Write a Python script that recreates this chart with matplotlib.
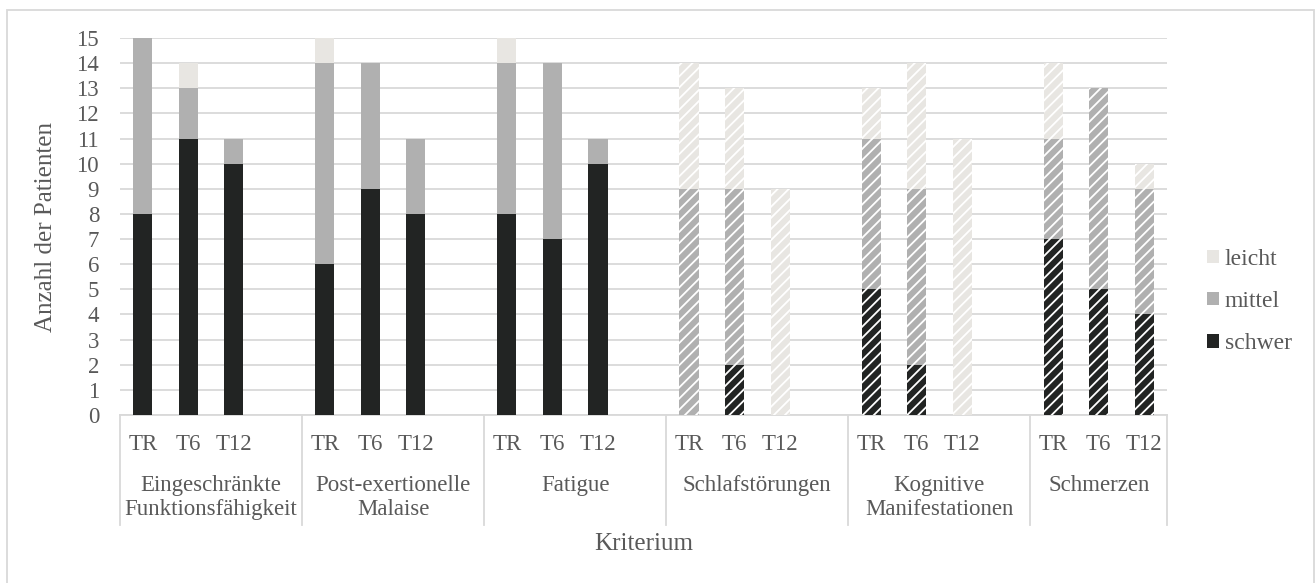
import matplotlib
matplotlib.use('Agg')
import matplotlib.pyplot as plt
import matplotlib.transforms as mtransforms
from matplotlib.patches import Patch, Rectangle
from matplotlib.lines import Line2D

SCHRIFT = ['Liberation Serif', 'DejaVu Serif']
plt.rcParams['font.family'] = SCHRIFT
plt.rcParams['hatch.linewidth'] = 1.3

# Kriterien und Zeitpunkte
gruppen = ['Eingeschränkte\nFunktionsfähigkeit', 'Post-exertionelle\nMalaise', 'Fatigue',
           'Schlafstörungen', 'Kognitive\nManifestationen', 'Schmerzen']
zeitpunkte = ['TR', 'T6', 'T12']

# Anzahl Patienten je Schweregrad (TR, T6, T12 pro Kriterium)
schwer = [8, 11, 10, 6, 9, 8, 8, 7, 10, 0, 2, 0, 5, 2, 0, 7, 5, 4]
mittel = [7, 2, 1, 8, 5, 3, 6, 7, 1, 9, 7, 0, 6, 7, 0, 4, 8, 5]
leicht = [0, 1, 0, 1, 0, 0, 1, 0, 0, 5, 4, 9, 2, 5, 11, 3, 0, 1]

# Kriterien mit Schraffur
schraffiert = [False, False, False, True, True, True]

c_schwer = '#222423'
c_mittel = '#b0b0b0'
c_leicht = '#e8e6e2'
textfarbe = '#595959'
gitter = '#d9d9d9'

W, H = 1315, 583
fig = plt.figure(figsize=(W / 100, H / 100), dpi=100)
ax = fig.add_axes([120 / W, 1 - 415 / H, (1167 - 120) / W, (415 - 38) / H])

# Positionen: 4 Plätze pro Kriterium, letzter leer
pos = []
for g in range(len(gruppen)):
    for t in range(len(zeitpunkte)):
        pos.append(g * 4 + t)

breite = 0.42
for i, x in enumerate(pos):
    g = i // 3
    hatch = '///' if schraffiert[g] else None
    unten = 0
    for werte, farbe in [(schwer, c_schwer), (mittel, c_mittel), (leicht, c_leicht)]:
        ax.bar(x, werte[i], bottom=unten, width=breite, color=farbe,
               hatch=hatch, edgecolor='white' if hatch else farbe, linewidth=0, zorder=3)
        unten += werte[i]

ax.set_xlim(-0.5, 22.5)
ax.set_ylim(0, 15)
ax.set_yticks(range(0, 16))
ax.set_yticklabels([str(v) for v in range(0, 16)], family=SCHRIFT)
ax.grid(axis='y', color=gitter, linewidth=1.3, zorder=0)
ax.tick_params(axis='y', length=0, pad=15, labelsize=16.5, labelcolor=textfarbe)

ax.set_xticks(pos)
ax.set_xticklabels(zeitpunkte * len(gruppen), family=SCHRIFT)
ax.tick_params(axis='x', length=0, pad=14, labelsize=16.5, labelcolor=textfarbe)

for s in ['top', 'right', 'left']:
    ax.spines[s].set_visible(False)
ax.spines['bottom'].set_color(gitter)
ax.spines['bottom'].set_linewidth(1.3)

# Kriterien unter den Zeitpunkten, mit Trennlinien
trans = mtransforms.blended_transform_factory(ax.transData, fig.transFigure)
grenzen = [-0.5, 3.5, 7.5, 11.5, 15.5, 19.5, 22.5]
for x in grenzen:
    fig.add_artist(Line2D([x, x], [1 - 415 / H, 1 - 525 / H], transform=trans,
                          color=gitter, linewidth=1.3))
for g, name in enumerate(gruppen):
    mitte = (grenzen[g] + grenzen[g + 1]) / 2
    fig.text(mitte, 1 - 475 / H, name, transform=trans, ha='center', va='top',
             fontsize=16.5, color=textfarbe, linespacing=1.18, family=SCHRIFT)

ax.set_ylabel('Anzahl der Patienten', fontsize=18, color=textfarbe, labelpad=14, family=SCHRIFT)
fig.text((120 + 1167) / 2 / W, 1 - 544 / H, 'Kriterium', ha='center', va='center',
         fontsize=18, color=textfarbe, family=SCHRIFT)

handles = [Patch(facecolor=c_leicht, label='leicht'),
           Patch(facecolor=c_mittel, label='mittel'),
           Patch(facecolor=c_schwer, label='schwer')]
leg = fig.legend(handles=handles, loc='upper left', bbox_to_anchor=(1195 / W, 1 - 237 / H),
                 frameon=False, prop={'family': SCHRIFT, 'size': 17},
                 handlelength=0.5, handleheight=0.5,
                 handletextpad=0.25, labelspacing=0.9, borderpad=0)
for t in leg.get_texts():
    t.set_color(textfarbe)

# Rahmen um das Diagramm
fig.add_artist(Rectangle((7 / W, -0.05), (1314 - 7) / W, 1.05 - 10 / H,
                         transform=fig.transFigure, fill=False, edgecolor=gitter, linewidth=1.3))

fig.savefig('out.png', dpi=100)
